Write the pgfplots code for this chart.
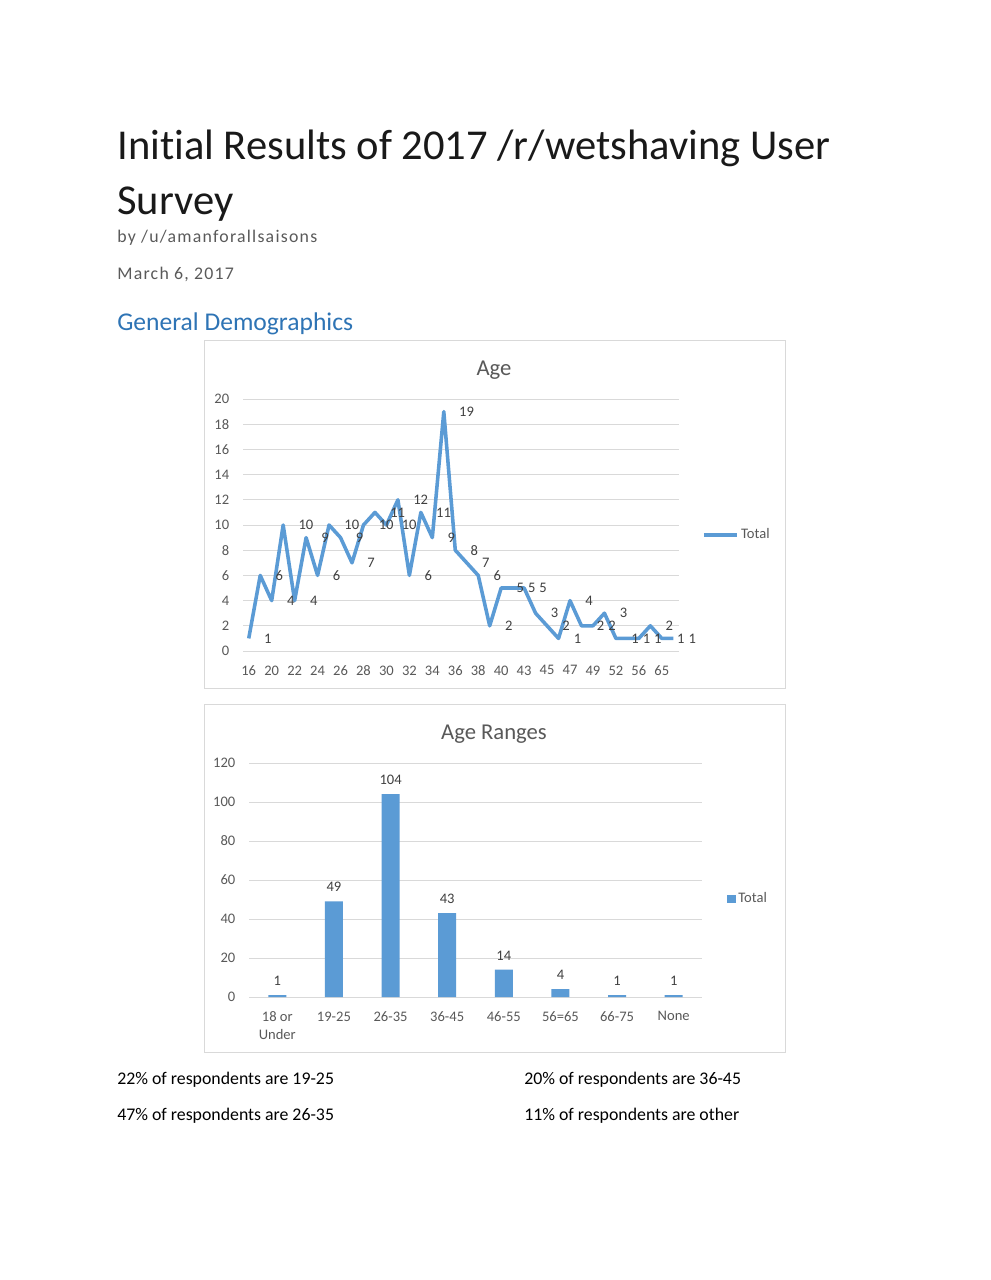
\documentclass[border=0pt]{standalone}
\usepackage{fontspec}
\setmainfont{Carlito}[Ligatures=NoCommon]
\usepackage{pgfplots}
\pgfplotsset{compat=1.18}

\definecolor{barblue}{HTML}{5B9BD5}
\definecolor{gridgray}{HTML}{D9D9D9}
\definecolor{labelgray}{HTML}{595959}
\definecolor{datagray}{HTML}{404040}
\definecolor{headblue}{HTML}{2E74B5}
\definecolor{subgray}{HTML}{5A5A5A}

\pgfplotsset{
  excelchart/.style={
    scale only axis,
    clip=false,
    axis lines*=left,
    y axis line style={draw=none},
    x axis line style={gridgray, line width=0.6pt},
    major tick length=0pt,
    ymajorgrids=true,
    grid style={gridgray, line width=0.6pt},
    ymin=0,
    /pgf/number format/assume math mode=true,
    tick label style={font=\fontsize{9}{11}\selectfont, text=labelgray},
    yticklabel style={anchor=east, inner sep=0pt, xshift=-8.3pt},
    xticklabel style={anchor=north, inner sep=0pt, yshift=-8.8pt},
    legend style={draw=none, fill=none, inner sep=0pt,
      font=\fontsize{9}{11}\selectfont, text=labelgray,
      nodes={inner sep=1.5pt}},
  },
}

\begin{document}
\begin{tikzpicture}
\begin{scope}[x=0.61818pt, y=-0.61818pt, every node/.style={inner sep=0pt, anchor=base west}]
\fill[white] (0,0) rectangle (990,1280);
\node[font=\fontsize{26.3}{32}\selectfont, text=black!90] at (117,160) {Initial Results of 2017 /r/wetshaving User};
\node[font=\fontsize{26.3}{32}\selectfont, text=black!90] at (117,215) {Survey};
\node[font=\fontsize{11}{13}\selectfont\addfontfeatures{LetterSpace=7}, text=subgray] at (117,243) {by /u/amanforallsaisons};
\node[font=\fontsize{11}{13}\selectfont\addfontfeatures{LetterSpace=7}, text=subgray] at (117,279) {March 6, 2017};
\node[font=\fontsize{15.8}{19}\selectfont, text=headblue] at (117,330) {General Demographics};
\draw[gridgray, line width=0.6pt] (204,340) rectangle (785,688);
\draw[gridgray, line width=0.6pt] (204,704) rectangle (785,1052);
\node[anchor=base, font=\fontsize{14}{17}\selectfont, text=labelgray] at (494,375) {Age};
\node[anchor=base, font=\fontsize{14}{17}\selectfont, text=labelgray] at (494,739) {Age Ranges};
\node[font=\fontsize{11}{13}\selectfont] at (117,1084) {22\% of respondents are 19-25};
\node[font=\fontsize{11}{13}\selectfont] at (524,1084) {20\% of respondents are 36-45};
\node[font=\fontsize{11}{13}\selectfont] at (117,1120) {47\% of respondents are 26-35};
\node[font=\fontsize{11}{13}\selectfont] at (524,1120) {11\% of respondents are other};
\end{scope}

% Age: one point per age, labelled every other category
\begin{axis}[
    excelchart,
    at={(150.22pt,-402.44pt)}, anchor=south west,
    width=269.53pt, height=155.78pt,
    xmin=-0.5, xmax=37.5,
    ymax=20,
    ytick={0,2,...,20},
    xtick={0,2,...,36},
    xticklabels={16,20,22,24,26,28,30,32,34,36,38,40,43,45,47,49,52,56,65},
    legend style={at={(1.052,0.46)}, anchor=west},
    legend image code/.code={\draw[barblue, line width=2.2pt] (0pt,0pt) -- (20.5pt,0pt);},
    nodes near coords,
    every node near coord/.append style={anchor=west, xshift=8.4pt, inner sep=0pt,
      font=\fontsize{9}{11}\selectfont, text=datagray},
]
\addplot[barblue, line width=2.2pt, line join=round, mark=none] coordinates {
  (0,1) (1,6) (2,4) (3,10) (4,4) (5,9) (6,6) (7,10) (8,9) (9,7)
  (10,10) (11,11) (12,10) (13,12) (14,6) (15,11) (16,9) (17,19) (18,8) (19,7)
  (20,6) (21,2) (22,5) (23,5) (24,5) (25,3) (26,2) (27,1) (28,4) (29,2)
  (30,2) (31,3) (32,1) (33,1) (34,1) (35,2) (36,1) (37,1)
};
\addlegendentry{Total}
\end{axis}

% Age ranges
\begin{axis}[
    excelchart,
    at={(153.93pt,-616.33pt)}, anchor=south west,
    width=280.04pt, height=144.65pt,
    xmin=-0.5, xmax=7.5,
    ymax=120,
    ytick={0,20,...,120},
    xtick={0,...,7},
    xticklabels={{18 or\\Under},19-25,26-35,36-45,46-55,56=65,66-75,None},
    xticklabel style={align=center},
    ybar, bar width=11.1pt,
    legend style={at={(1.055,0.419)}, anchor=west},
    legend image code/.code={\fill[barblue] (0pt,-2.7pt) rectangle (5.4pt,2.7pt);},
    nodes near coords,
    every node near coord/.append style={anchor=base, yshift=6pt, inner sep=0pt,
      font=\fontsize{9}{11}\selectfont, text=datagray},
]
\addplot[fill=barblue, draw=none] coordinates {
  (0,1) (1,49) (2,104) (3,43) (4,14) (5,4) (6,1) (7,1)
};
\addlegendentry{Total}
\end{axis}
\end{tikzpicture}
\end{document}
